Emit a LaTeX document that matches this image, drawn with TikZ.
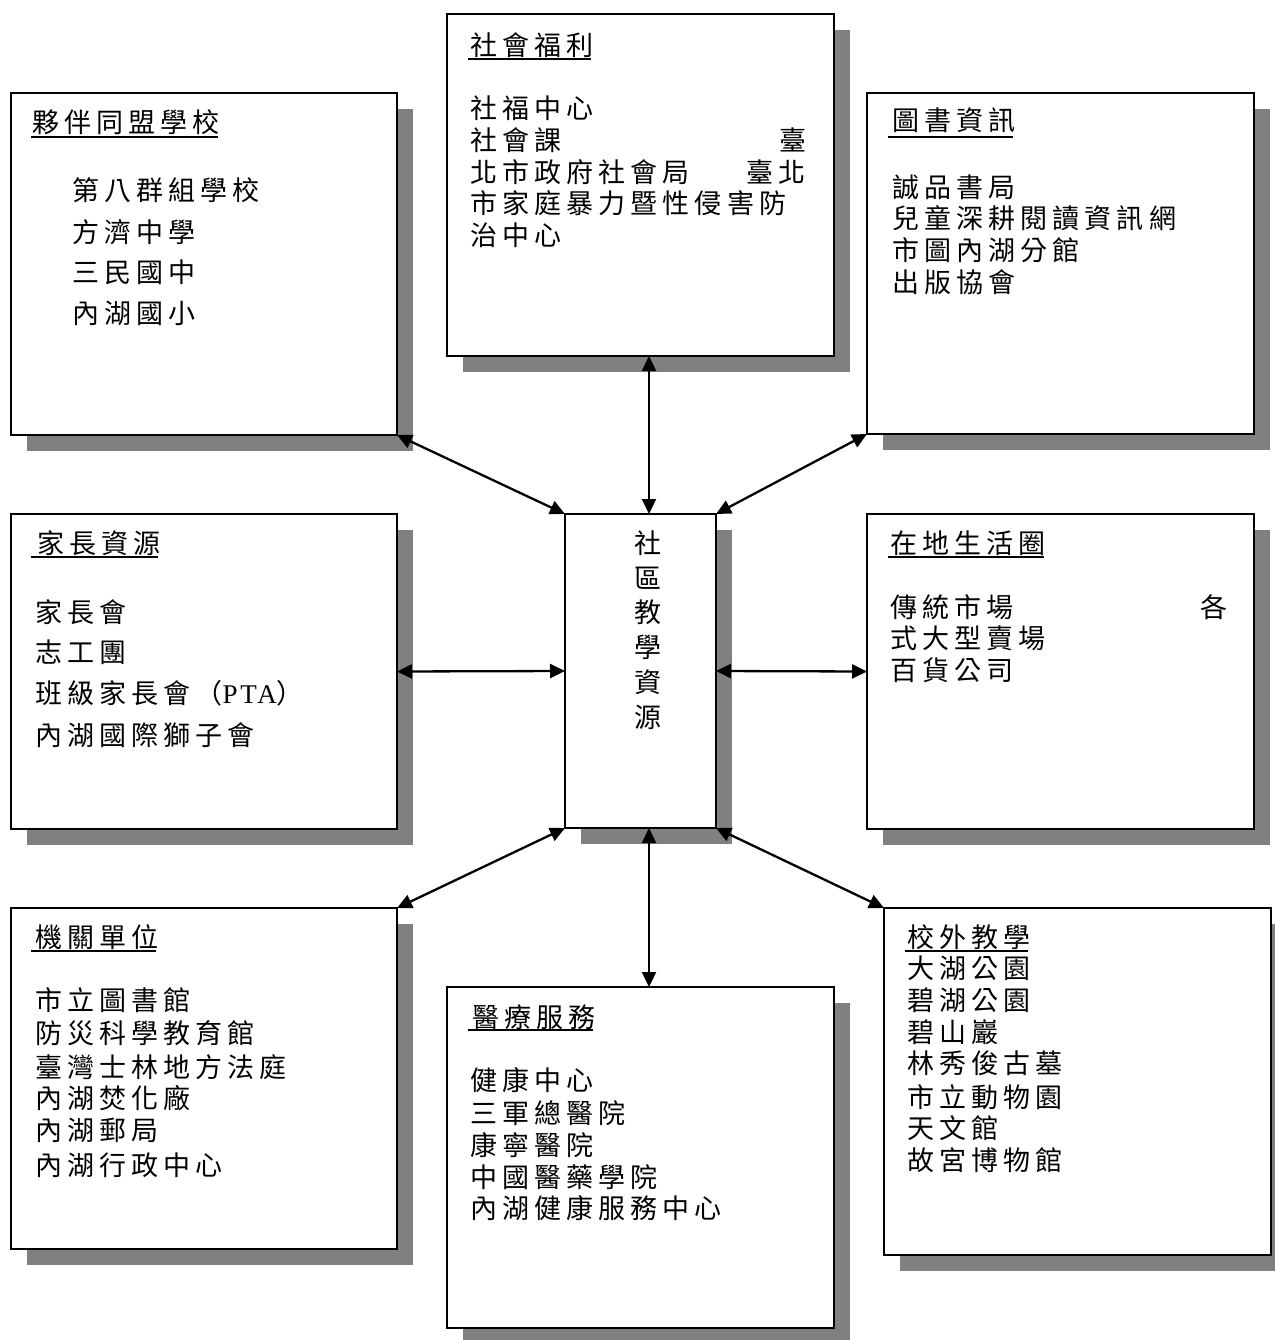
\documentclass[tikz,border=0pt]{standalone}
\usepackage{fontspec}
\usetikzlibrary{arrows.meta,shadows,calc}
\newfontfamily\cjk[LetterSpace=19]{Noto Sans CJK TC}
\newfontfamily\lat[LetterSpace=10]{Liberation Serif}
\definecolor{shadowgray}{RGB}{128,128,128}
\begin{document}
\begin{tikzpicture}[x=1pt,y=-1pt,
  box/.style={draw, line width=2.6pt, fill=white, inner sep=0, outer sep=0,
    drop shadow={shadow xshift=16pt,shadow yshift=-16pt,fill=shadowgray,opacity=1}},
  txt/.style={anchor=west, inner sep=0, outer sep=0, font=\cjk\fontsize{27}{32}\selectfont},
  rtxt/.style={txt, anchor=east},
  uline/.style={line width=2.4pt},
  link/.style={line width=2.3pt, {Triangle[length=15pt,width=14pt]}-{Triangle[length=15pt,width=14pt]}}]
\useasboundingbox (0,0) rectangle (1274,1340);

% boxes
\node[box, minimum width=386pt, minimum height=342pt] (b1) at (204,264) {};
\node[box, minimum width=387pt, minimum height=342pt] (b2) at (640.5,185) {};
\node[box, minimum width=387pt, minimum height=341pt] (b3) at (1060.5,263.5) {};
\node[box, minimum width=386pt, minimum height=315pt] (b4) at (204,671.5) {};
\node[box, minimum width=151pt, minimum height=314pt] (b5) at (640.5,671) {};
\node[box, minimum width=387pt, minimum height=315pt] (b6) at (1060.5,671.5) {};
\node[box, minimum width=386pt, minimum height=341pt] (b7) at (204,1078.5) {};
\node[box, minimum width=387pt, minimum height=341pt] (b8) at (640.5,1157.5) {};
\node[box, minimum width=387pt, minimum height=347pt] (b9) at (1077.5,1081.5) {};

% connectors
\draw[link] (b1.south east) -- (b5.north west);
\draw[link] ([xshift=8.5pt]b2.south) -- ([xshift=8.5pt]b5.north);
\draw[link] (b3.south west) -- (b5.north east);
\draw[link] (b4.east) -- (b5.west);
\draw[link] (b5.east) -- (b6.west);
\draw[link] (b5.south west) -- (b7.north east);
\draw[link] ([xshift=8.5pt]b5.south) -- ([xshift=8.5pt]b8.north);
\draw[link] (b5.south east) -- (b9.north west);

% center text
\foreach \ch [count=\i] in {社,區,教,學,資,源}
  \node[txt, anchor=center] (c\i) at (648, {543+34.8*(\i-1)}) {\ch};

% B1
\node[txt] (b1t) at (32,122) {夥伴同盟學校};
\draw[uline] ($(b1t.west)+(-1,15)$) -- ($(b1t.east)+(-2,15)$);
\node[txt] (b1a) at (72,190) {第八群組學校};
\node[txt] (b1b) at (72,232) {方濟中學};
\node[txt] (b1c) at (72,272) {三民國中};
\node[txt] (b1d) at (72,313) {內湖國小};

% B2
\node[txt] (b2t) at (470,45) {社會福利};
\draw[uline] ($(b2t.west)+(-2,14)$) -- ($(b2t.east)+(-2,14)$);
\node[txt] (b2a) at (470,108) {社福中心};
\node[txt] (b2b) at (470,140) {社會課};
\node[rtxt] (b2b2) at (806,140) {臺};
\node[txt] (b2c) at (470,172) {北市政府社會局};
\node[rtxt] (b2c2) at (806,172) {臺北};
\node[txt] (b2d) at (470,203) {市家庭暴力暨性侵害防};
\node[txt] (b2e) at (470,235) {治中心};

% B3
\node[txt] (b3t) at (892,120) {圖書資訊};
\draw[uline] ($(b3t.west)+(-4,17)$) -- ($(b3t.east)+(-2,17)$);
\node[txt] (b3a) at (892,187) {誠品書局};
\node[txt] (b3b) at (892,218) {兒童深耕閱讀資訊網};
\node[txt] (b3c) at (892,250) {市圖內湖分館};
\node[txt] (b3d) at (892,282) {出版協會};

% B4
\node[txt] (b4t) at (37,543) {家長資源};
\draw[uline] ($(b4t.west)+(-6,14)$) -- ($(b4t.east)+(-2,14)$);
\node[txt] (b4a) at (35,612) {家長會};
\node[txt] (b4b) at (35,652) {志工團};
\node[txt] (b4c) at (35,693) {班級家長會（{\lat PTA}）};
\node[txt] (b4d) at (35,735) {內湖國際獅子會};

% B6
\node[txt] (b6t) at (890,543) {在地生活圈};
\draw[uline] ($(b6t.west)+(-2,14)$) -- ($(b6t.east)+(-2,14)$);
\node[txt] (b6a) at (890,607) {傳統市場};
\node[rtxt] (b6a2) at (1227,607) {各};
\node[txt] (b6b) at (890,638) {式大型賣場};
\node[txt] (b6c) at (890,670) {百貨公司};

% B7
\node[txt] (b7t) at (35,937) {機關單位};
\draw[uline] ($(b7t.west)+(-4,14)$) -- ($(b7t.east)+(-2,14)$);
\node[txt] (b7a) at (35,1000) {市立圖書館};
\node[txt] (b7b) at (35,1033) {防災科學教育館};
\node[txt] (b7c) at (35,1067) {臺灣士林地方法庭};
\node[txt] (b7d) at (35,1098) {內湖焚化廠};
\node[txt] (b7e) at (35,1130) {內湖郵局};
\node[txt] (b7f) at (35,1165) {內湖行政中心};

% B8
\node[txt] (b8t) at (472,1017) {醫療服務};
\draw[uline] ($(b8t.west)+(-4,13)$) -- ($(b8t.east)+(-2,13)$);
\node[txt] (b8a) at (470,1080) {健康中心};
\node[txt] (b8b) at (470,1113) {三軍總醫院};
\node[txt] (b8c) at (470,1145) {康寧醫院};
\node[txt] (b8d) at (470,1177) {中國醫藥學院};
\node[txt] (b8e) at (470,1208) {內湖健康服務中心};

% B9
\node[txt] (b9t) at (907,937) {校外教學};
\draw[uline] ($(b9t.west)+(-2,14)$) -- ($(b9t.east)+(-2,14)$);
\node[txt] (b9a) at (907,968) {大湖公園};
\node[txt] (b9b) at (907,1000) {碧湖公園};
\node[txt] (b9c) at (907,1032) {碧山巖};
\node[txt] (b9d) at (907,1063) {林秀俊古墓};
\node[txt] (b9e) at (907,1097) {市立動物園};
\node[txt] (b9f) at (907,1128) {天文館};
\node[txt] (b9g) at (907,1160) {故宮博物館};
\end{tikzpicture}
\end{document}
